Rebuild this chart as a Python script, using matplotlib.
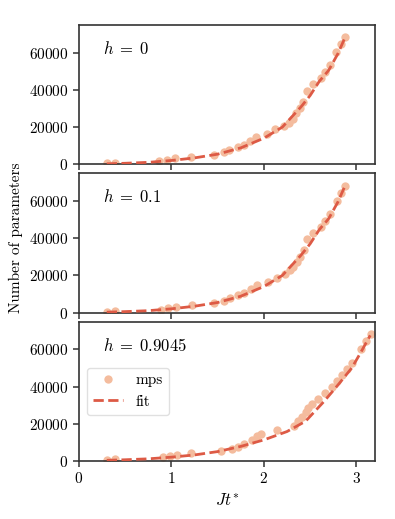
import matplotlib
matplotlib.use("Agg")
import matplotlib.pyplot as plt
import numpy as np

plt.rcParams['font.family'] = 'serif'
plt.rcParams['font.serif'] = ['cmr10', 'DejaVu Serif']
plt.rcParams['mathtext.fontset'] = 'cm'
plt.rcParams['axes.unicode_minus'] = False
plt.rcParams['axes.formatter.use_mathtext'] = True
plt.rcParams['font.size'] = 11

# mps data, h = 0
t_h0 = [0.30, 0.39, 0.87, 0.95, 1.04, 1.21, 1.46, 1.57, 1.62, 1.72, 1.78, 1.85, 1.91,
        2.03, 2.12, 2.22, 2.27, 2.31, 2.35, 2.39, 2.42, 2.47, 2.53, 2.62, 2.66, 2.71,
        2.78, 2.83, 2.88]
n_h0 = [500, 900, 1600, 2200, 3100, 3800, 5100, 6400, 7500, 9100, 10500, 12400, 14500,
        16500, 18700, 20500, 22400, 24500, 27500, 30500, 33600, 39600, 43100, 46400,
        49600, 53600, 60500, 64900, 68500]

# mps data, h = 0.1
t_h01 = [0.30, 0.39, 0.89, 0.96, 1.05, 1.22, 1.46, 1.57, 1.63, 1.72, 1.79, 1.86, 1.92,
         2.04, 2.14, 2.23, 2.28, 2.31, 2.36, 2.39, 2.43, 2.47, 2.53, 2.62, 2.66, 2.71,
         2.79, 2.83, 2.88]
n_h01 = [500, 900, 1400, 2300, 3200, 3800, 5200, 6100, 7700, 9200, 10600, 12800, 14600,
         16400, 18700, 20900, 22900, 24700, 27200, 29900, 33500, 39400, 42700, 46300,
         49300, 52900, 59800, 64300, 68200]

# mps data, h = 0.9045
t_h09 = [0.30, 0.39, 0.91, 0.98, 1.06, 1.21, 1.54, 1.65, 1.72, 1.78, 1.87, 1.92, 1.97,
         2.14, 2.33, 2.37, 2.41, 2.45, 2.48, 2.52, 2.59, 2.66, 2.74, 2.79, 2.84, 2.90,
         2.95, 3.05, 3.10, 3.16]
n_h09 = [700, 1100, 2200, 2700, 3300, 4200, 5400, 6300, 7600, 9200, 11400, 13200, 14500,
         16800, 18600, 21500, 23500, 26200, 28400, 30700, 33400, 36700, 39800, 42800,
         46100, 49300, 52900, 60500, 64500, 68500]

# fitted curves
fit_t_a = [0.30, 0.50, 0.75, 1.00, 1.25, 1.50, 1.75, 2.00, 2.20, 2.40, 2.50, 2.60, 2.70,
           2.80, 2.88]
fit_n_a = [200, 500, 1000, 2000, 3400, 5400, 8800, 14000, 20000, 30800, 37000, 44700,
           50500, 59500, 68500]
fit_t_b = [0.30, 0.50, 0.75, 1.00, 1.25, 1.50, 1.75, 2.00, 2.25, 2.45, 2.65, 2.80, 2.95,
           3.05, 3.15]
fit_n_b = [300, 600, 1100, 2000, 3200, 5000, 7800, 11300, 15800, 21300, 32000, 40800,
           50000, 58600, 67600]

labels = [r'$h\;=\;0$', r'$h\;=\;0.1$', r'$h\;=\;0.9045$']
mps_t = [t_h0, t_h01, t_h09]
mps_n = [n_h0, n_h01, n_h09]
fits_t = [fit_t_a, fit_t_a, fit_t_b]
fits_n = [fit_n_a, fit_n_a, fit_n_b]

dot_color = '#f4bc9e'
fit_color = '#dd5a45'

fig, axes = plt.subplots(3, 1, figsize=(3.95, 5.19), dpi=100, sharex=True)
fig.subplots_adjust(left=0.2, right=0.949, top=0.952, bottom=0.112, hspace=0.065)

for ax, lab, tt, nn, ft, fn in zip(axes, labels, mps_t, mps_n, fits_t, fits_n):
    ax.plot(tt, nn, 'o', color=dot_color, markersize=6, markeredgewidth=0,
            label='mps', zorder=2)
    ax.plot(ft, fn, '--', color=fit_color, lw=2, label='fit', zorder=3)
    ax.set_xlim(0, 3.2)
    ax.set_ylim(0, 75000)
    ax.set_yticks([0, 20000, 40000, 60000])
    ax.text(0.08, 0.83, lab, transform=ax.transAxes, fontsize=12, va='center')
    for s in ax.spines.values():
        s.set_color('0.2')
        s.set_linewidth(1.2)
    ax.tick_params(color='0.2', width=1.1, length=4)

axes[2].set_xticks([0, 1, 2, 3])
axes[2].set_xlabel(r'$Jt^{*}$', fontsize=12)
axes[1].set_ylabel('Number of parameters', fontsize=11)
axes[1].yaxis.set_label_coords(-0.19, 0.535)
axes[2].legend(loc='center left', fontsize=11, framealpha=0.8, edgecolor='0.85')

fig.savefig('out.png', dpi=100)
